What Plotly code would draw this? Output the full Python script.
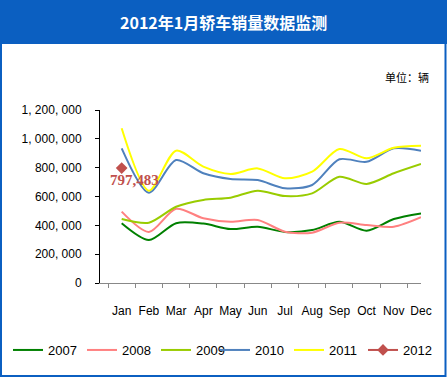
import plotly.graph_objects as go

months = ["Jan", "Feb", "Mar", "Apr", "May", "Jun", "Jul", "Aug", "Sep", "Oct", "Nov", "Dec"]
years = ["2007", "2008", "2009", "2010", "2011"]
s2007 = [414000, 298000, 415000, 412000, 374000, 390000, 354000, 367000, 425000, 363000, 444000, 483000]
s2008 = [495000, 354000, 515000, 449000, 425000, 437000, 356000, 349000, 418000, 402000, 390000, 456000]
s2009 = [444000, 418000, 529000, 576000, 592000, 640000, 603000, 622000, 737000, 687000, 761000, 825000]
s2010 = [934000, 626000, 853000, 761000, 721000, 714000, 657000, 680000, 858000, 841000, 934000, 918000]
s2011 = [1073000, 640000, 918000, 807000, 756000, 795000, 726000, 772000, 929000, 865000, 938000, 952000]
s2012 = [797483]
colors = ["#008000", "#FF8080", "#99CC00", "#4F81BD", "#FFFF00"]
ytickvals = [0, 200000, 400000, 600000, 800000, 1000000, 1200000]
yticktext = ["0", "200, 000", "400, 000", "600, 000", "800, 000", "1, 000, 000", "1, 200, 000"]

W, H = 447, 377
L, R, T, B = 100, 421, 110, 283
def px(x): return (x - L) / (R - L)
def py(y): return (B - y) / (B - T)

fig = go.Figure()
for i, (name, vals, c) in enumerate(zip(years, [s2007, s2008, s2009, s2010, s2011], colors)):
    fig.add_trace(go.Scatter(x=months, y=vals, name=name, mode="lines",
                             legend="legend" if i < 3 else "legend2",
                             line=dict(color=c, width=2, shape="spline", smoothing=0.8)))
fig.add_trace(go.Scatter(x=months[:len(s2012)], y=s2012, name="2012", mode="lines+markers",
                         legend="legend2",
                         line=dict(color="#C0504D", width=2),
                         marker=dict(symbol="diamond", size=9, color="#C0504D")))
fig.add_annotation(x=months[0], y=s2012[0], text=f"{s2012[0]:,}", showarrow=False,
                   xanchor="left", yanchor="middle", xshift=-14, yshift=-12,
                   font=dict(family="Liberation Serif", size=15, color="#C0504D", weight="bold"))

# header, border
fig.add_shape(type="rect", xref="paper", yref="paper", x0=px(0), x1=px(W), y0=py(44), y1=py(0),
              fillcolor="#0B5FC1", line=dict(width=0), layer="below")
fig.add_shape(type="rect", xref="paper", yref="paper", x0=px(1), x1=px(445.5), y0=py(376), y1=py(40),
              fillcolor="rgba(0,0,0,0)", line=dict(color="#0B5FC1", width=2))
fig.add_annotation(xref="paper", yref="paper", x=px(223), y=py(22), text="2012年1月轿车销量数据监测",
                   xanchor="center", yanchor="middle",
                   showarrow=False, font=dict(family="Noto Sans CJK SC", size=16, color="white", weight="bold"))
fig.add_annotation(xref="paper", yref="paper", x=px(431), y=py(77), text="单位：辆",
                   xanchor="right", yanchor="middle",
                   showarrow=False, font=dict(family="Noto Sans CJK SC", size=11, color="black"))

leg = dict(orientation="h", xref="container", yref="container", y=1 - 350 / H,
           xanchor="left", yanchor="middle", entrywidth=29, entrywidthmode="pixels",
           font=dict(size=13), bgcolor="rgba(0,0,0,0)", traceorder="normal")
fig.update_layout(
    width=W, height=H, margin=dict(l=L, r=W - R, t=T, b=H - B, autoexpand=False),
    paper_bgcolor="white", plot_bgcolor="white",
    font=dict(family="Liberation Sans", size=12, color="black"),
    showlegend=True,
    legend=dict(leg, x=8 / W),
    legend2=dict(leg, x=215 / W),
    xaxis=dict(showgrid=False, showline=True, linecolor="#888888", linewidth=1, automargin=False,
               ticks="outside", tickson="boundaries", ticklen=4, tickcolor="#888888", tickangle=0,
               ticklabelstandoff=17, tickfont=dict(size=12)),
    yaxis=dict(range=[0, 1200000], showgrid=False, showline=True, linecolor="black", linewidth=1,
               automargin=False,
               ticks="outside", ticklen=4, tickcolor="black", tickvals=ytickvals, ticktext=yticktext,
               ticklabelstandoff=11, zeroline=False, tickfont=dict(size=12)),
)
fig.write_html("out.html", config={"displayModeBar": False},
               post_script="document.body.style.margin='0';")
